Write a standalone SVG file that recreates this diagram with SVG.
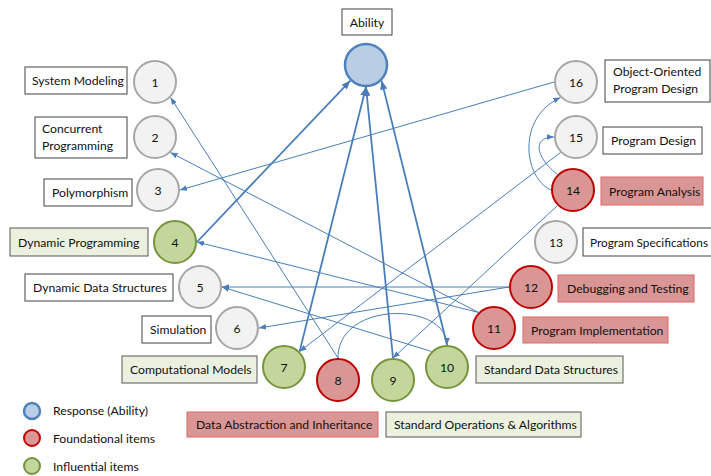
<svg xmlns="http://www.w3.org/2000/svg" width="711" height="476" viewBox="0 0 711 476">
<style>
text{font-family:Lato,"Liberation Sans",sans-serif;font-size:12.2px;fill:#111}
.m{text-anchor:middle}
circle{stroke-width:2}
.g{fill:#f2f2f2;stroke:#a6a6a6}
.v{fill:#c3d69b;stroke:#77933c}
.r{fill:#d99694;stroke:#c00000}
.b{fill:#b9cde5;stroke:#4f81bd;stroke-width:2.5}
.lw{fill:#fff;stroke:#404040;stroke-width:1}
.lv{fill:#ebf1de;stroke:#595959;stroke-width:1}
.lr{fill:#d99694;stroke:#e06666;stroke-width:1}
.e{stroke:#4a7ebb;stroke-width:1;fill:none;marker-end:url(#a)}
.k{stroke:#4a7ebb;stroke-width:1.8;fill:none;marker-end:url(#ak)}
</style>
<defs>
<marker id="a" viewBox="0 0 10 8" refX="10" refY="4" markerWidth="7" markerHeight="5.6" markerUnits="userSpaceOnUse" orient="auto"><path d="M0,0 L10,4 L0,8 z" fill="#4a7ebb"/></marker>
<marker id="ak" viewBox="0 0 10 8" refX="10" refY="4" markerWidth="9" markerHeight="7.2" markerUnits="userSpaceOnUse" orient="auto"><path d="M0,0 L10,4 L0,8 z" fill="#4a7ebb"/></marker>
</defs>
<rect width="711" height="476" fill="#fff"/>

<g id="ability"><rect class="lw" x="342" y="9" width="50" height="26"/><text class="m" x="367" y="27">Ability</text><circle class="b" cx="366" cy="65" r="21"/></g>
<g id="n1"><rect class="lw" x="25" y="67" width="102" height="27"/><text x="32" y="85">System Modeling</text><circle class="g" cx="155" cy="82" r="21"/><text class="m" x="155" y="86.5">1</text></g>
<g id="n2"><rect class="lw" x="35" y="117" width="92" height="41"/><text x="42" y="133">Concurrent</text><text x="42" y="150">Programming</text><circle class="g" cx="155" cy="137" r="21"/><text class="m" x="155" y="141.5">2</text></g>
<g id="n3"><rect class="lw" x="44" y="179" width="88" height="27"/><text x="52" y="197">Polymorphism</text><circle class="g" cx="158" cy="190" r="21"/><text class="m" x="158" y="194.5">3</text></g>
<g id="n4"><rect class="lv" x="10" y="228" width="138" height="28"/><text x="18" y="246.5">Dynamic Programming</text><circle class="v" cx="175" cy="242" r="21"/><text class="m" x="175" y="246.5">4</text></g>
<g id="n5"><rect class="lw" x="25" y="274" width="148" height="27"/><text x="33" y="292">Dynamic Data Structures</text><circle class="g" cx="200" cy="287" r="21"/><text class="m" x="200" y="291.5">5</text></g>
<g id="n6"><rect class="lw" x="142" y="316" width="69" height="27"/><text x="150" y="334">Simulation</text><circle class="g" cx="237" cy="328" r="21"/><text class="m" x="237" y="332.5">6</text></g>
<g id="n7"><rect class="lv" x="122" y="356" width="135" height="27"/><text x="130" y="374">Computational Models</text><circle class="v" cx="284" cy="367" r="21"/><text class="m" x="284" y="371.5">7</text></g>
<g id="n8"><rect class="lr" x="187" y="412" width="191" height="25"/><text x="196" y="429">Data Abstraction and Inheritance</text><circle class="r" cx="338" cy="380" r="21"/><text class="m" x="338" y="385">8</text></g>
<g id="n9"><rect class="lv" x="386" y="412" width="195" height="25"/><text x="394" y="429">Standard Operations &amp; Algorithms</text><circle class="v" cx="393" cy="380" r="21"/><text class="m" x="393" y="385">9</text></g>
<g id="n10"><rect class="lv" x="476" y="356" width="147" height="27"/><text x="484" y="374">Standard Data Structures</text><circle class="v" cx="447" cy="367" r="21"/><text class="m" x="447" y="371.5">10</text></g>
<g id="n11"><rect class="lr" x="523" y="317" width="145" height="26"/><text x="531" y="334.5">Program Implementation</text><circle class="r" cx="494" cy="328" r="21"/><text class="m" x="494" y="332.5">11</text></g>
<g id="n12"><rect class="lr" x="558" y="275" width="136" height="27"/><text x="567" y="293">Debugging and Testing</text><circle class="r" cx="531" cy="287" r="21"/><text class="m" x="531" y="291.5">12</text></g>
<g id="n13"><rect class="lw" x="583" y="228" width="140" height="28"/><text x="590" y="246.5" style="font-size:11.8px">Program Specifications</text><circle class="g" cx="556" cy="242" r="21"/><text class="m" x="556" y="246.5">13</text></g>
<g id="n14"><rect class="lr" x="601" y="177" width="102" height="28"/><text x="609" y="195.5">Program Analysis</text><circle class="r" cx="573" cy="190" r="21"/><text class="m" x="573" y="194.5">14</text></g>
<g id="n15"><rect class="lw" x="603" y="127" width="99" height="27"/><text x="611" y="145">Program Design</text><circle class="g" cx="576" cy="137" r="21"/><text class="m" x="576" y="141.5">15</text></g>
<g id="n16"><rect class="lw" x="605" y="60" width="105" height="42"/><text x="613" y="76">Object-Oriented</text><text x="613" y="93">Program Design</text><circle class="g" cx="576" cy="82" r="21"/><text class="m" x="576" y="86.5">16</text></g>

<g id="connectors">
<path class="k" d="M197,242 L350.4,80.6"/>
<path class="k" d="M299.6,351.4 L366,87"/>
<path class="k" d="M393,358 L366,87"/>
<path class="k" d="M447,345 L381.6,80.6"/>
<path class="e" d="M338,358 L170.6,97.6"/>
<path class="e" d="M478.4,312.4 L170.6,152.6"/>
<path class="e" d="M478.4,312.4 L197,242"/>
<path class="e" d="M554,82 L180,190"/>
<path class="e" d="M509,287 L222,287"/>
<path class="e" d="M509,287 L259,328"/>
<path class="e" d="M431.4,351.4 L222,287"/>
<path class="e" d="M560.4,152.6 L299.6,351.4"/>
<path class="e" d="M557.4,205.6 L393,358"/>
<path class="e" d="M551,190 C524,178 516,118 560.4,97.6"/>
<path class="e" d="M557.4,174.4 C538,160 530,137 554,137"/>
<path class="e" d="M338,358 C338,300 447,302 447,345"/>
</g>

<g id="legend">
<circle class="b" cx="32" cy="411" r="8" stroke-width="2"/><text x="53" y="415">Response (Ability)</text>
<circle class="r" cx="32" cy="438" r="8"/><text x="53" y="443">Foundational items</text>
<circle class="v" cx="32" cy="466" r="8"/><text x="53" y="471">Influential items</text>
</g>
</svg>
